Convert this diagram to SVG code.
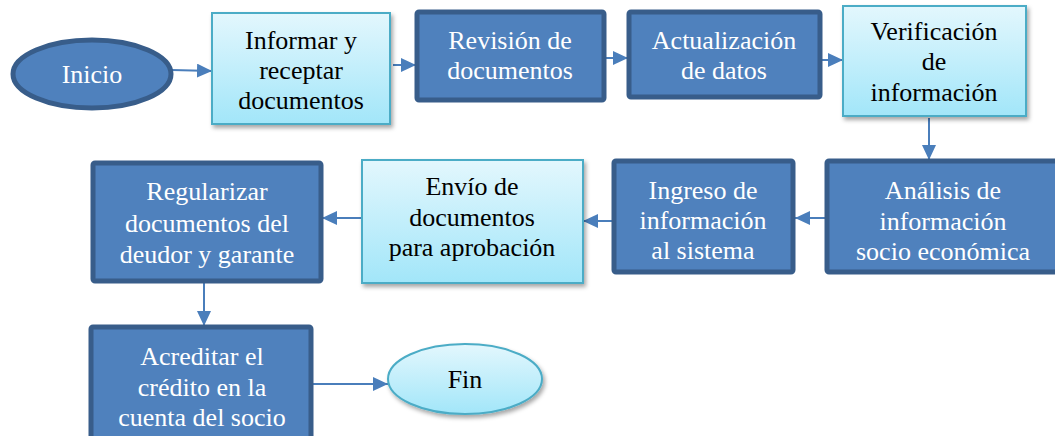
<svg xmlns="http://www.w3.org/2000/svg" width="1055" height="436" viewBox="0 0 1055 436">
<defs>
<linearGradient id="lg" x1="0" y1="0" x2="0" y2="1"><stop offset="0" stop-color="#E3F7FD"/><stop offset="1" stop-color="#A2E6F9"/></linearGradient>
<filter id="sh" x="-10%" y="-10%" width="125%" height="130%"><feDropShadow dx="2" dy="3" stdDeviation="2" flood-color="#000" flood-opacity="0.35"/></filter>
<marker id="ah" markerUnits="userSpaceOnUse" markerWidth="16" markerHeight="14" refX="15" refY="7" orient="auto"><path d="M0,0 L15,7 L0,14 z" fill="#4A7EBB"/></marker>
<style>
.dark{fill:#4F81BD;stroke:#385D8A;stroke-width:5}
.light{fill:url(#lg);stroke:#4BACC6;stroke-width:2;filter:url(#sh)}
.tw{font-family:"Liberation Serif","Times New Roman",serif;font-size:26px;fill:#fff;text-anchor:middle}
.tb{font-family:"Liberation Serif","Times New Roman",serif;font-size:26px;fill:#000;text-anchor:middle}
.c{stroke:#4A7EBB;stroke-width:2;fill:none;marker-end:url(#ah)}
</style>
</defs>
<g id="connectors">
<line class="c" x1="172" y1="70" x2="212" y2="71"/>
<line class="c" x1="393" y1="65" x2="416" y2="65"/>
<line class="c" x1="606" y1="58" x2="628" y2="58"/>
<line class="c" x1="822" y1="60" x2="843" y2="60"/>
<line class="c" x1="929" y1="118" x2="929" y2="160"/>
<line class="c" x1="825" y1="218" x2="795" y2="218"/>
<line class="c" x1="612" y1="221" x2="583" y2="221"/>
<line class="c" x1="362" y1="218" x2="322" y2="218"/>
<line class="c" x1="204" y1="283" x2="204" y2="326"/>
<line class="c" x1="313" y1="384" x2="388" y2="384"/>
</g>
<g id="inicio">
<ellipse cx="92" cy="74" rx="79" ry="34" fill="#4F81BD" stroke="#385D8A" stroke-width="5"/>
<text class="tw" x="92" y="83">Inicio</text>
</g>
<g id="informar">
<rect class="light" x="212" y="13" width="178" height="111"/>
<text class="tb" x="301" y="49">Informar y</text>
<text class="tb" x="301" y="79">receptar</text>
<text class="tb" x="301" y="109">documentos</text>
</g>
<g id="revision">
<rect class="dark" x="417" y="12" width="187" height="88" rx="2"/>
<text class="tw" x="510" y="49">Revisión de</text>
<text class="tw" x="510" y="79">documentos</text>
</g>
<g id="actualizacion">
<rect class="dark" x="629" y="12" width="191" height="85" rx="2"/>
<text class="tw" x="724" y="49">Actualización</text>
<text class="tw" x="724" y="79">de datos</text>
</g>
<g id="verificacion">
<rect class="light" x="843" y="6" width="183" height="110"/>
<text class="tb" x="934" y="40">Verificación</text>
<text class="tb" x="934" y="70">de</text>
<text class="tb" x="934" y="101">información</text>
</g>
<g id="analisis">
<rect class="dark" x="827" y="161" width="240" height="111" rx="2"/>
<text class="tw" x="943" y="199">Análisis de</text>
<text class="tw" x="943" y="230">información</text>
<text class="tw" x="943" y="260">socio económica</text>
</g>
<g id="ingreso">
<rect class="dark" x="614" y="161" width="179" height="111" rx="2"/>
<text class="tw" x="703" y="199">Ingreso de</text>
<text class="tw" x="703" y="229">información</text>
<text class="tw" x="703" y="259">al sistema</text>
</g>
<g id="envio">
<rect class="light" x="362" y="160" width="221" height="123"/>
<text class="tb" x="472" y="195">Envío de</text>
<text class="tb" x="472" y="226">documentos</text>
<text class="tb" x="472" y="256">para aprobación</text>
</g>
<g id="regularizar">
<rect class="dark" x="93" y="163" width="228" height="118" rx="2"/>
<text class="tw" x="207" y="200">Regularizar</text>
<text class="tw" x="207" y="232">documentos del</text>
<text class="tw" x="207" y="263">deudor y garante</text>
</g>
<g id="acreditar">
<rect class="dark" x="91" y="327" width="220" height="120" rx="2"/>
<text class="tw" x="202" y="365">Acreditar el</text>
<text class="tw" x="202" y="396">crédito en la</text>
<text class="tw" x="202" y="426">cuenta del socio</text>
</g>
<g id="fin">
<ellipse cx="465" cy="379" rx="77" ry="35" fill="url(#lg)" stroke="#4BACC6" stroke-width="2" filter="url(#sh)"/>
<text class="tb" x="465" y="388">Fin</text>
</g>
</svg>
